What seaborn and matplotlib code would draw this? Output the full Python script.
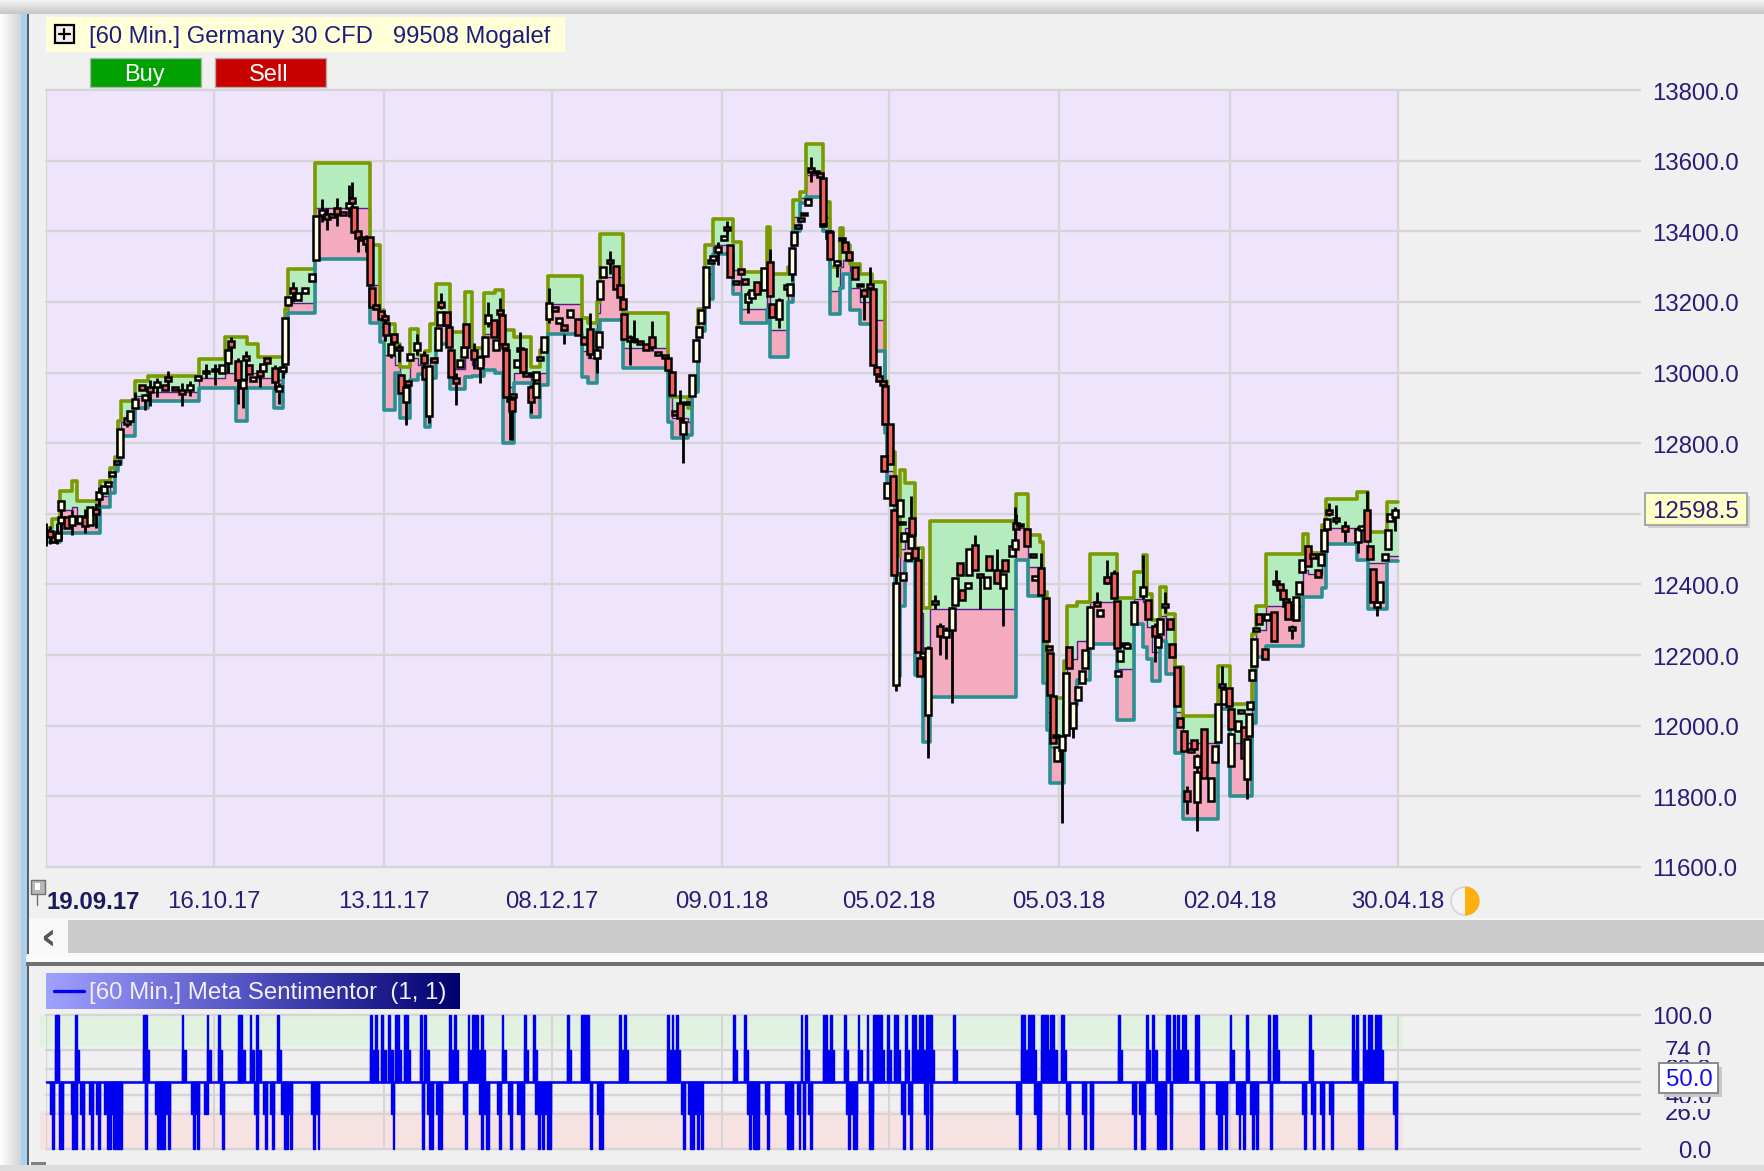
import numpy as np
import matplotlib
matplotlib.use("Agg")
import matplotlib.pyplot as plt
from matplotlib.colors import LinearSegmentedColormap
from matplotlib.patches import Rectangle, Wedge, Circle
from matplotlib.transforms import ScaledTranslation
import seaborn as sns

# Chart values. bar position = horizontal place on the time axis
price_ticks = [13800, 13600, 13400, 13200, 13000, 12800, 12600, 12400, 12200, 12000, 11800, 11600]
date_pos = [46, 214, 384, 552, 722, 889, 1059, 1230, 1398]
date_labels = ["19.09.17", "16.10.17", "13.11.17", "08.12.17", "09.01.18", "05.02.18", "05.03.18", "02.04.18", "30.04.18"]
last_price = "12598.5"

body_x = [46, 50, 54, 58, 61, 61, 67, 72, 80, 85, 90, 96, 99, 104, 108, 112, 117, 120, 127, 130,
          135, 142, 145, 150, 157, 165, 168, 175, 182, 190, 198, 206, 215, 222, 228, 231, 238, 243, 246, 249,
          253, 260, 263, 267, 275, 279, 283, 285, 288, 293, 298, 305, 312, 316, 322, 327, 332, 337, 343, 349,
          352, 354, 358, 362, 366, 370, 372, 376, 381, 385, 386, 391, 394, 399, 401, 406, 408, 410, 417, 424,
          425, 429, 434, 438, 440, 441, 447, 449, 451, 456, 460, 464, 466, 474, 480, 485, 488, 494, 496, 500,
          502, 505, 506, 510, 512, 513, 517, 520, 523, 526, 531, 534, 536, 536, 540, 544, 549, 555, 559, 564,
          570, 578, 584, 590, 597, 599, 600, 603, 610, 616, 620, 623, 624, 630, 634, 640, 646, 652, 658, 665,
          668, 672, 675, 680, 683, 686, 692, 696, 699, 701, 706, 711, 713, 718, 724, 727, 730, 736, 741, 745,
          748, 752, 757, 764, 770, 772, 779, 787, 790, 792, 794, 798, 801, 804, 808, 811, 816, 820, 823, 823,
          829, 830, 837, 842, 845, 849, 855, 860, 864, 870, 873, 877, 879, 883, 885, 890, 884, 887, 893, 894,
          896, 903, 900, 902, 904, 908, 911, 912, 915, 918, 920, 923, 928, 935, 940, 946, 952, 955, 960, 962,
          968, 969, 975, 980, 987, 989, 997, 1003, 1005, 1012, 1015, 1016, 1020, 1027, 1033, 1035, 1041, 1046, 1049, 1050,
          1053, 1056, 1057, 1062, 1066, 1069, 1073, 1078, 1082, 1085, 1090, 1097, 1100, 1107, 1114, 1117, 1120, 1118, 1125, 1127,
          1134, 1143, 1148, 1155, 1158, 1160, 1165, 1170, 1172, 1177, 1180, 1184, 1187, 1191, 1194, 1197, 1197, 1204, 1211, 1215,
          1218, 1222, 1224, 1229, 1231, 1231, 1238, 1241, 1244, 1247, 1249, 1250, 1252, 1254, 1256, 1259, 1265, 1267, 1274, 1276,
          1280, 1283, 1286, 1288, 1292, 1296, 1299, 1302, 1308, 1313, 1318, 1321, 1324, 1327, 1329, 1336, 1345, 1358, 1362, 1367,
          1370, 1373, 1377, 1380, 1385, 1388, 1390, 1395]
body_open = [12545, 12550, 12535, 12525, 12575, 12612, 12590, 12569, 12575, 12590, 12569, 12615, 12642, 12660, 12680, 12708, 12740, 12760, 12855, 12863,
             12900, 12965, 12923, 12960, 12958, 12965, 12988, 12960, 12950, 12950, 12980, 13000, 13010, 13000, 13028, 13090, 13033, 12955, 13047, 13020,
             12976, 13005, 13005, 13040, 13014, 12948, 13003, 13024, 13190, 13240, 13205, 13225, 13260, 13320, 13445, 13450, 13440, 13465, 13445, 13465,
             13495, 13468, 13400, 13385, 13380, 13385, 13240, 13190, 13173, 13160, 13140, 13050, 13110, 13073, 12993, 12918, 12975, 13035, 13063, 13050,
             13016, 12877, 13040, 13063, 13134, 13200, 13172, 13130, 13063, 12985, 13016, 13045, 13137, 13063, 13012, 13046, 13140, 13148, 13063, 13178,
             13162, 13080, 13063, 12930, 12925, 12930, 13016, 13070, 13068, 12990, 12960, 12990, 12979, 12932, 13035, 13059, 13153, 13185, 13140, 13135,
             13158, 13153, 13100, 13122, 13040, 13073, 13209, 13270, 13320, 13303, 13247, 13209, 13167, 13100, 13095, 13090, 13080, 13100, 13050, 13050,
             13040, 13002, 12890, 12913, 12826, 12910, 12935, 13034, 13100, 13140, 13185, 13310, 13320, 13340, 13375, 13412, 13360, 13250, 13294, 13265,
             13200, 13210, 13256, 13233, 13313, 13195, 13152, 13237, 13220, 13280, 13360, 13410, 13430, 13445, 13474, 13580, 13572, 13565, 13550, 13415,
             13400, 13398, 13305, 13375, 13370, 13340, 13300, 13250, 13233, 13252, 13237, 13015, 12990, 12975, 12963, 12855, 12765, 12645, 12707, 12612,
             12116, 12414, 12593, 12570, 12522, 12470, 12504, 12589, 12504, 12470, 12192, 12195, 12031, 12345, 12281, 12250, 12272, 12343, 12461, 12385,
             12390, 12428, 12513, 12430, 12390, 12480, 12442, 12390, 12470, 12480, 12499, 12575, 12565, 12556, 12485, 12414, 12447, 12362, 12225, 12206,
             12083, 11968, 11899, 11932, 11975, 12222, 11993, 12073, 12121, 12163, 12220, 12350, 12310, 12420, 12433, 12352, 12182, 12140, 12225, 12220,
             12288, 12368, 12356, 12283, 12222, 12260, 12335, 12302, 12231, 12167, 12023, 11986, 11816, 11925, 11960, 11882, 11783, 11990, 11787, 11896,
             11953, 12110, 12061, 12108, 11886, 12047, 11986, 12037, 11995, 11849, 11972, 12047, 12129, 12170, 12268, 12316, 12217, 12298, 12321, 12410,
             12400, 12385, 12360, 12350, 12270, 12298, 12373, 12434, 12510, 12485, 12440, 12454, 12496, 12557, 12610, 12588, 12565, 12520, 12555, 12611,
             12510, 12444, 12335, 12350, 12468, 12500, 12581, 12590]
body_close = [12555, 12535, 12520, 12545, 12590, 12637, 12560, 12594, 12594, 12565, 12620, 12600, 12662, 12680, 12690, 12717, 12750, 12840, 12872, 12892,
              12925, 12950, 12937, 12945, 12972, 12950, 12976, 12950, 12940, 12965, 12990, 13005, 13003, 13020, 13065, 13072, 12980, 12980, 13035, 12995,
              12988, 12990, 13024, 13027, 12972, 12962, 13016, 13155, 13215, 13225, 13225, 13240, 13280, 13442, 13460, 13435, 13450, 13450, 13455, 13480,
              13480, 13397, 13380, 13375, 13365, 13247, 13185, 13180, 13153, 13150, 13105, 13082, 13087, 13063, 12941, 12958, 12965, 13052, 13084, 13026,
              12981, 13018, 13030, 13125, 13172, 13186, 13134, 13073, 12988, 12970, 13035, 13073, 13073, 13037, 13043, 13100, 13162, 13100, 13093, 13165,
              13082, 13070, 12932, 12920, 12890, 12938, 13035, 13060, 13002, 12998, 12918, 13000, 13002, 12970, 13045, 13100, 13197, 13174, 13155, 13120,
              13176, 13106, 13080, 13052, 13063, 13115, 13259, 13298, 13310, 13237, 13214, 13181, 13096, 13090, 13090, 13080, 13065, 13073, 13058, 13040,
              13007, 12937, 12880, 12871, 12859, 12917, 12992, 13091, 13128, 13176, 13300, 13320, 13330, 13355, 13388, 13403, 13270, 13258, 13280, 13252,
              13223, 13233, 13223, 13295, 13218, 13157, 13204, 13247, 13250, 13354, 13398, 13418, 13438, 13452, 13490, 13568, 13565, 13555, 13422, 13420,
              13380, 13322, 13315, 13382, 13340, 13320, 13266, 13245, 13218, 13240, 13020, 12995, 12975, 12965, 12855, 12740, 12720, 12688, 12626, 12428,
              12404, 12433, 12640, 12578, 12546, 12490, 12537, 12541, 12475, 12210, 12140, 12205, 12220, 12352, 12253, 12270, 12333, 12418, 12428, 12357,
              12404, 12499, 12442, 12420, 12420, 12442, 12404, 12430, 12437, 12510, 12527, 12556, 12572, 12508, 12478, 12423, 12371, 12239, 12215, 12088,
              11951, 11975, 11941, 11970, 12150, 12163, 12064, 12109, 12156, 12215, 12336, 12340, 12329, 12405, 12362, 12220, 12211, 12155, 12235, 12230,
              12350, 12394, 12302, 12255, 12250, 12302, 12345, 12274, 12194, 12057, 11995, 11929, 11787, 11935, 11935, 11915, 11868, 11853, 11853, 11943,
              12061, 12118, 12104, 12057, 11976, 11990, 12014, 12045, 11910, 11962, 12033, 12068, 12159, 12246, 12278, 12288, 12189, 12316, 12241, 12400,
              12385, 12360, 12340, 12302, 12280, 12364, 12406, 12468, 12453, 12475, 12420, 12487, 12553, 12586, 12600, 12580, 12550, 12557, 12565, 12524,
              12472, 12350, 12350, 12406, 12487, 12553, 12600, 12610]

wick_x = [46, 50, 57, 61, 72, 85, 96, 99, 127, 135, 145, 150, 157, 168, 182, 190, 206, 215, 228, 231,
          238, 243, 246, 260, 275, 279, 283, 293, 322, 327, 337, 349, 352, 358, 366, 385, 391, 399, 406, 417,
          424, 429, 441, 456, 474, 480, 488, 500, 510, 512, 520, 531, 534, 549, 564, 590, 597, 610, 630, 634,
          652, 680, 683, 718, 727, 748, 770, 779, 792, 811, 837, 864, 870, 896, 911, 928, 935, 940, 946, 952,
          975, 980, 997, 1003, 1015, 1016, 1041, 1062, 1073, 1097, 1107, 1114, 1143, 1155, 1165, 1187, 1197, 1222, 1247, 1276,
          1292, 1329, 1336, 1345, 1358, 1367, 1377, 1395]
wick_high = [12575, 12565, 12575, 12640, 12610, 12615, 12630, 12675, 12880, 12945, 12940, 12980, 12985, 13005, 12970, 12975, 13025, 13025, 13070, 13100,
             13040, 12985, 13060, 13025, 13020, 12970, 13040, 13255, 13490, 13465, 13495, 13530, 13540, 13405, 13390, 13165, 13110, 13080, 12965, 13110,
             13060, 13020, 13225, 13000, 13085, 13050, 13200, 13210, 12940, 12935, 13115, 12965, 13000, 13240, 13110, 13170, 13070, 13345, 13105, 13150,
             13145, 12950, 12870, 13370, 13430, 13230, 13350, 13210, 13285, 13610, 13320, 13240, 13300, 12430, 12650, 12225, 12370, 12290, 12280, 12335,
             12540, 12430, 12500, 12395, 12620, 12600, 12490, 11975, 12065, 12380, 12470, 12440, 12482, 12290, 12380, 11830, 11920, 12170, 11965, 12440,
             12285, 12630, 12625, 12580, 12565, 12666, 12340, 12620]
wick_low = [12510, 12515, 12514, 12530, 12540, 12545, 12560, 12620, 12845, 12900, 12895, 12905, 12930, 12950, 12905, 12935, 12985, 12965, 13000, 13040,
            12910, 12900, 12980, 12960, 12950, 12910, 12985, 13200, 13425, 13405, 13415, 13440, 13460, 13340, 13340, 13090, 13040, 13030, 12852, 13050,
            12985, 12857, 13180, 12908, 13010, 12970, 13130, 13150, 12810, 12810, 13040, 12885, 12960, 13140, 13080, 13040, 13000, 13280, 13020, 13085,
            13060, 12860, 12744, 13305, 13390, 13170, 13220, 13125, 13260, 13540, 13270, 13150, 13235, 12097, 12500, 11908, 12330, 12200, 12190, 12064,
            12440, 12330, 12400, 12282, 12490, 12560, 12370, 11724, 11965, 12340, 12400, 12360, 12360, 12180, 12320, 11750, 11702, 12100, 11792, 12395,
            12245, 12595, 12570, 12520, 12490, 12520, 12310, 12550]

band_x = [46, 52, 60, 72, 77, 100, 110, 115, 118, 121, 135, 148, 199, 225, 236, 247, 258, 274, 283, 285,
          288, 315, 370, 380, 384, 395, 400, 410, 418, 425, 430, 436, 450, 465, 472, 484, 495, 503, 514, 531,
          540, 548, 582, 588, 597, 600, 623, 668, 672, 688, 692, 698, 705, 713, 733, 741, 767, 770, 788, 793,
          800, 806, 823, 830, 840, 843, 850, 860, 872, 885, 887, 895, 900, 905, 915, 923, 930, 1016, 1028, 1040,
          1043, 1047, 1050, 1064, 1067, 1077, 1090, 1117, 1134, 1143, 1147, 1152, 1160, 1166, 1175, 1183, 1218, 1230, 1252, 1256,
          1266, 1303, 1308, 1322, 1326, 1357, 1368, 1387, 1398]
band_upper = [12560, 12585, 12665, 12693, 12637, 12693, 12730, 12760, 12863, 12920, 12976, 12990, 13038, 13100, 13100, 13080, 13045, 13045, 13030, 13180,
              13294, 13592, 13360, 13176, 13138, 13080, 13016, 13124, 13050, 13060, 13138, 13251, 13115, 13228, 13070, 13225, 13233, 13120, 13100, 13016,
              13065, 13272, 13155, 13140, 13200, 13392, 13170, 13000, 12930, 12900, 12960, 13180, 13360, 13436, 13370, 13285, 13412, 13280, 13300, 13488,
              13510, 13648, 13483, 13300, 13408, 13360, 13308, 13280, 13255, 12975, 12774, 12480, 12725, 12688, 12503, 12333, 12579, 12655, 12540, 12520,
              12380, 12130, 12078, 12182, 12338, 12350, 12485, 12362, 12435, 12482, 12373, 12300, 12392, 12316, 12165, 12028, 12170, 12061, 12260, 12340,
              12487, 12543, 12490, 12567, 12642, 12661, 12548, 12633, 12633]
band_mid = [12540, 12550, 12610, 12620, 12570, 12650, 12690, 12740, 12800, 12860, 12935, 12945, 12985, 13000, 12980, 13000, 12985, 12980, 13010, 13100,
            13196, 13465, 13247, 13130, 13050, 13020, 12970, 13040, 13020, 12950, 13040, 13170, 13010, 13080, 13020, 13110, 13100, 12960, 13000, 12940,
            13000, 13195, 13060, 13040, 13170, 13270, 13070, 12930, 12870, 12860, 12950, 13150, 13280, 13360, 13290, 13180, 13300, 13120, 13250, 13440,
            13495, 13560, 13440, 13230, 13300, 13320, 13240, 13200, 13150, 12900, 12720, 12300, 12500, 12560, 12320, 12150, 12330, 12560, 12450, 12440,
            12250, 12040, 11940, 12110, 12190, 12240, 12350, 12160, 12360, 12350, 12280, 12210, 12310, 12230, 12040, 11950, 12100, 11950, 12130, 12270,
            12340, 12440, 12430, 12470, 12560, 12560, 12460, 12480, 12480]
band_lower = [12520, 12520, 12547, 12547, 12547, 12618, 12660, 12720, 12740, 12820, 12900, 12920, 12957, 12957, 12863, 12957, 12957, 12900, 13000, 13040,
              13168, 13322, 13140, 13087, 12894, 13000, 12870, 12979, 12995, 12847, 12984, 13080, 12952, 12988, 12990, 13007, 13000, 12800, 12969, 12875,
              12965, 13108, 12988, 12970, 13120, 13148, 13012, 12860, 12814, 12822, 12945, 13119, 13209, 13337, 13223, 13140, 13180, 13044, 13200, 13400,
              13480, 13497, 13400, 13165, 13240, 13280, 13176, 13138, 13060, 12830, 12680, 12140, 12338, 12466, 12145, 11955, 12080, 12470, 12367, 12367,
              12120, 11989, 11837, 12060, 12060, 12130, 12230, 12017, 12288, 12222, 12190, 12127, 12240, 12146, 11924, 11735, 12047, 11801, 12009, 12194,
              12227, 12364, 12364, 12390, 12515, 12468, 12331, 12466, 12466]

# Meta Sentimentor: stretches of bars where the value left the 50 line
senti_levels = [100.0, 74.0, 60.0, 50.0, 40.0, 26.0, 0.0]
senti_line_x = [46, 1397]
senti_line_y = [50, 50]
up_top = [(55, 59), (75, 77), (143, 147), (182, 183), (207, 208), (218, 220), (238, 242), (250, 251), (256, 258), (277, 279),
          (370, 372), (375, 377), (381, 383), (388, 390), (395, 399), (404, 408), (420, 422), (424, 426), (449, 451), (454, 456),
          (468, 469), (472, 478), (481, 483), (502, 503), (524, 526), (533, 535), (567, 569), (581, 589), (619, 621), (624, 626),
          (667, 669), (672, 673), (676, 678), (733, 735), (744, 746), (801, 802), (805, 807), (823, 827), (830, 832), (844, 846),
          (858, 859), (867, 868), (873, 882), (887, 889), (894, 898), (905, 907), (912, 916), (919, 923), (926, 932), (953, 955),
          (1021, 1025), (1028, 1034), (1041, 1048), (1050, 1054), (1061, 1064), (1118, 1120), (1146, 1148), (1152, 1154), (1166, 1170), (1173, 1175),
          (1177, 1179), (1182, 1186), (1195, 1199), (1230, 1231), (1246, 1248), (1268, 1270), (1273, 1277), (1309, 1311), (1352, 1354), (1356, 1358),
          (1363, 1365), (1368, 1372), (1375, 1381)]
up_shoulder = [(55, 59), (75, 79), (143, 149), (182, 186), (207, 211), (218, 222), (238, 245), (250, 254), (256, 261), (277, 281),
               (370, 378), (381, 386), (388, 393), (395, 401), (404, 410), (420, 422), (424, 429), (449, 458), (468, 485), (502, 506),
               (524, 528), (533, 537), (567, 571), (581, 589), (619, 628), (667, 680), (733, 737), (744, 748), (801, 802), (805, 809),
               (823, 834), (844, 848), (858, 862), (867, 868), (873, 884), (887, 891), (894, 900), (905, 909), (912, 934), (953, 957),
               (1021, 1036), (1041, 1057), (1061, 1066), (1118, 1122), (1146, 1150), (1152, 1157), (1166, 1170), (1173, 1188), (1195, 1199), (1230, 1234),
               (1246, 1249), (1268, 1270), (1273, 1279), (1309, 1313), (1352, 1358), (1363, 1383)]
down_shoulder = [(50, 54), (59, 63), (71, 77), (80, 84), (89, 93), (96, 100), (104, 122), (145, 147), (155, 170), (191, 199),
                 (204, 208), (220, 224), (254, 258), (263, 267), (270, 274), (281, 292), (311, 319), (391, 394), (422, 424), (427, 433),
                 (436, 442), (463, 467), (479, 489), (497, 501), (508, 512), (517, 524), (535, 551), (590, 592), (597, 603), (681, 685),
                 (688, 702), (747, 759), (765, 769), (785, 793), (797, 800), (803, 805), (808, 812), (846, 857), (869, 873), (901, 905),
                 (908, 912), (924, 928), (930, 932), (1016, 1021), (1034, 1041), (1066, 1070), (1082, 1086), (1090, 1093), (1132, 1136), (1139, 1145),
                 (1155, 1166), (1170, 1172), (1200, 1204), (1216, 1227), (1236, 1245), (1250, 1258), (1270, 1272), (1302, 1306), (1311, 1315), (1320, 1324),
                 (1329, 1333), (1358, 1363), (1393, 1397)]
down_bottom = [(52, 54), (59, 63), (72, 77), (82, 84), (91, 93), (98, 100), (107, 111), (113, 122), (145, 147), (157, 165),
               (168, 170), (193, 195), (197, 199), (222, 224), (256, 258), (265, 267), (272, 274), (284, 288), (290, 292), (313, 315),
               (318, 319), (393, 394), (422, 424), (429, 433), (438, 442), (465, 467), (481, 483), (486, 489), (499, 501), (510, 512),
               (521, 524), (538, 540), (542, 544), (547, 551), (590, 592), (599, 603), (683, 685), (690, 694), (697, 699), (701, 703),
               (749, 751), (753, 759), (767, 769), (787, 793), (799, 800), (803, 805), (810, 812), (848, 850), (853, 857), (869, 873),
               (903, 905), (910, 912), (926, 928), (930, 932), (1019, 1021), (1037, 1041), (1068, 1070), (1084, 1086), (1090, 1093), (1134, 1136),
               (1141, 1145), (1157, 1166), (1170, 1172), (1200, 1204), (1218, 1222), (1225, 1227), (1239, 1240), (1243, 1245), (1252, 1254), (1256, 1258),
               (1270, 1272), (1304, 1306), (1313, 1315), (1322, 1324), (1331, 1333), (1358, 1363), (1395, 1397)]

W, H = 1765, 1171
PANEL = "#f0f0f0"
GRID = "#d6d4d6"
INK = "#2b1a78"

sns.set_theme(style="white")
plt.rcParams["font.family"] = ["Liberation Sans", "DejaVu Sans"]
plt.rcParams["font.size"] = 17.3

fig = plt.figure(figsize=(W / 100, H / 100), dpi=100, facecolor="white")


def px_axes(left, top, right, bottom, z):
    a = fig.add_axes([left / W, 1 - bottom / H, (right - left) / W, (bottom - top) / H], zorder=z)
    a.patch.set_visible(False)
    for s in a.spines.values():
        s.set_visible(False)
    return a


# window chrome behind the plots, in plain pixels
back = px_axes(0, 0, W, H, 0)
back.set_xlim(0, W)
back.set_ylim(H, 0)
back.axis("off")
back.imshow(np.linspace(0, 1, 30)[None, :], extent=(0, 21, 1171, 0), cmap=LinearSegmentedColormap.from_list("l", ["#ffffff", "#d4d4d4"]), aspect="auto", zorder=0)
back.imshow(np.linspace(0, 1, 30)[:, None], extent=(0, W, 14, 0), cmap=LinearSegmentedColormap.from_list("t", ["#f4f4f4", "#c6c6c6"]), aspect="auto", zorder=0)
back.set_xlim(0, W)
back.set_ylim(H, 0)
back.add_patch(Rectangle((21, 14), W - 21, 1151, color=PANEL, lw=0, zorder=1))
back.add_patch(Rectangle((0, 1165), W, 6, color="#dcdcdc", lw=0, zorder=1))
back.add_patch(Rectangle((21, 14), 6, 1151, color="#a9d2f2", lw=0, zorder=2))
back.add_patch(Rectangle((27, 14), 2.5, 940, color="#5e5e5e", lw=0, zorder=2))
back.add_patch(Rectangle((27, 965), 2.5, 200, color="#5e5e5e", lw=0, zorder=2))
back.add_patch(Rectangle((29, 918), W, 38, color="#f8f8f8", lw=0, zorder=2))
back.add_patch(Rectangle((68, 920), W, 33, color="#cbcbcb", lw=0, zorder=3))
back.add_patch(Rectangle((26, 956), W, 6, color="#fbfbfb", lw=0, zorder=2))
back.add_patch(Rectangle((26, 962), W, 4, color="#707070", lw=0, zorder=3))
back.text(48, 939, "‹", fontsize=27, fontweight="bold", color="#555555", ha="center", va="center", family="DejaVu Sans")

# main price panel, x scale 1 bar position = 1 px so the price gridlines can run past the last bar
ax = px_axes(46, 90, 1640, 867, 2)
ax.set_xlim(46, 1640)
ax.set_ylim(11600, 13800)
ax.axvspan(46, 1398, color="#eee5fd", lw=0, zorder=0)
for p in price_ticks:
    ax.axhline(p, color=GRID, lw=1.7, zorder=1, clip_on=False)
for d in date_pos:
    ax.axvline(d, color=GRID, lw=1.7, zorder=1)

ax.fill_between(band_x, band_mid, band_upper, step="post", color="#b4ecbe", lw=0, zorder=2)
ax.fill_between(band_x, band_lower, band_mid, step="post", color="#f4aabf", lw=0, zorder=2)
sns.lineplot(x=band_x, y=band_mid, color="#5a1a90", lw=1.0, drawstyle="steps-post", estimator=None, sort=False, ax=ax, zorder=3)
sns.lineplot(x=band_x, y=band_upper, color="#7a9a00", lw=2.6, drawstyle="steps-post", estimator=None, sort=False, ax=ax, zorder=3)
sns.lineplot(x=band_x, y=band_lower, color="#2b8f92", lw=2.6, drawstyle="steps-post", estimator=None, sort=False, ax=ax, zorder=3)

ax.vlines(wick_x, wick_low, wick_high, color="black", lw=2.0, zorder=4)
opens = np.array(body_open)
closes = np.array(body_close)
body_colors = np.where(closes >= opens, "#fffce2", "#f0605c")
ax.bar(body_x, closes - opens, bottom=opens, width=6.4, color=body_colors, edgecolor="black", linewidth=1.8, zorder=5)

ax.set_yticks(price_ticks)
ax.set_yticklabels([f"{p:.1f}" for p in price_ticks], color=INK)
ax.yaxis.tick_right()
ax.set_xticks(date_pos)
ax.set_xticklabels(date_labels, color=INK)
ax.tick_params(axis="y", length=0, pad=8.5, labelsize=17.3)
ax.tick_params(axis="x", length=0, pad=17.5, labelsize=17.3)
for t in ax.get_yticklabels():
    t.set_transform(t.get_transform() + ScaledTranslation(0, -1 / 100, fig.dpi_scale_trans))
first = ax.get_xticklabels()[0]
first.set_fontweight("bold")
first.set_ha("left")
first.set_color("#1a1a5c")

# Meta Sentimentor panel
sub = px_axes(46, 1015, 1640, 1149, 2)
sub.set_xlim(46, 1640)
sub.set_ylim(0, 100)
sub.fill_between([40, 1403], 76, 100, color="#e1f2e1", lw=0, zorder=0, clip_on=False)
sub.fill_between([40, 1403], 0, 28, color="#f7e2e2", lw=0, zorder=0, clip_on=False)
for lv in senti_levels:
    sub.axhline(lv, color=GRID, lw=1.7, zorder=1, clip_on=False)
for d in date_pos:
    sub.axvline(d, color=GRID, lw=1.5, zorder=1)


def pulses(spans, start, stop):
    lefts = [s[0] for s in spans]
    widths = [s[1] - s[0] for s in spans]
    sub.bar(lefts, stop - start, bottom=start, width=widths, align="edge", color="#0000f0", edgecolor="#0000f0", linewidth=1.0, zorder=3, clip_on=False)


pulses(up_top, 50, 100)
pulses(up_shoulder, 50, 74)
pulses(down_shoulder, 50, 26)
pulses(down_bottom, 50, 0)
sns.lineplot(x=senti_line_x, y=senti_line_y, color="#0000f0", lw=1.8, estimator=None, sort=False, ax=sub, zorder=3)
sub.set_xticks([])
sub.set_yticks([])
sub.set_xlabel("")

# overlays: header, buttons, value boxes
ui = px_axes(0, 0, W, H, 5)
ui.set_xlim(0, W)
ui.set_ylim(H, 0)
ui.axis("off")
ui.add_patch(Rectangle((46, 17), 519, 35, color="#ffffd8", lw=0))
ui.add_patch(Rectangle((55, 25), 19, 18, fc="#f0f0f0", ec="black", lw=1.6))
ui.plot([59, 70], [34, 34], color="black", lw=1.6)
ui.plot([64.5, 64.5], [29, 39], color="black", lw=1.6)
ui.text(89, 37.5, "[60 Min.] Germany 30 CFD   99508 Mogalef", color="#1c1c80", fontsize=17.1, va="center")
ui.add_patch(Rectangle((90, 58), 111, 29, fc="#00a000", ec="#a8b8a8", lw=1))
ui.add_patch(Rectangle((215, 58), 111, 29, fc="#c80000", ec="#b8a8a8", lw=1))
ui.text(144, 75, "Buy", color="white", fontsize=17, ha="center", va="center")
ui.text(269, 75, "Sell", color="white", fontsize=17, ha="center", va="center")

ui.add_patch(Rectangle((1648, 496), 102, 32, color="#d0d0d0", lw=0))
ui.add_patch(Rectangle((1645, 493), 102, 32, fc="#ffffc8", ec="#9a9a9a", lw=1.2))
ui.text(1696, 511.5, last_price, color=INK, fontsize=17.3, ha="center", va="center")

ui.add_patch(Rectangle((31, 880), 14, 14, fc="#b8b8b8", ec="#707070", lw=1))
ui.add_patch(Rectangle((35, 883), 5, 7, color="white", lw=0))
ui.plot([37, 37], [894, 905], color="#707070", lw=1)
ui.add_patch(Rectangle((31, 1162), 15, 3, color="#808080", lw=0))

ui.add_patch(Circle((1465, 901), 14, fc="#f4f4f4", ec="#d4d4d4", lw=1.2))
ui.add_patch(Wedge((1465, 901), 14.5, -90, 90, color="#ffb010", lw=0))

ui.imshow(np.linspace(0, 1, 200)[None, :], extent=(46, 460, 1009, 973), aspect="auto", cmap=LinearSegmentedColormap.from_list("g", ["#a0a0ff", "#5050c0", "#00006e"]), zorder=1)
ui.set_xlim(0, W)
ui.set_ylim(H, 0)
ui.plot([54, 84], [991, 991], color="#0000f0", lw=2.4, zorder=2)
ui.text(89, 992.5, "[60 Min.] Meta Sentimentor  (1, 1)", color="#f0f0ff", fontsize=17.3, va="center", zorder=2)

# the sentiment labels sit on top of each other in the platform, later ones cut the earlier ones
label_y = [1018, 1052, 1070, None, 1098, 1114, 1152]
for lv, y in zip(senti_levels, label_y):
    if y is not None:
        ui.text(1712, y, f"{lv:.1f}", color=INK, fontsize=17.3, ha="right", va="center", zorder=2)
ui.add_patch(Rectangle((1660, 1055), 58, 5, color=PANEL, lw=0, zorder=3))
ui.add_patch(Rectangle((1660, 1103), 58, 6, color=PANEL, lw=0, zorder=3))
ui.add_patch(Rectangle((1664, 1067), 58, 30, color="#c8c8c8", lw=0, zorder=4))
ui.add_patch(Rectangle((1659, 1063), 59, 30, fc="white", ec="#8a8a8a", lw=1.4, zorder=5))
ui.text(1689, 1080, "50.0", color="#1010f0", fontsize=17.3, ha="center", va="center", zorder=6)

fig.savefig("out.png", dpi=100, facecolor="white")
